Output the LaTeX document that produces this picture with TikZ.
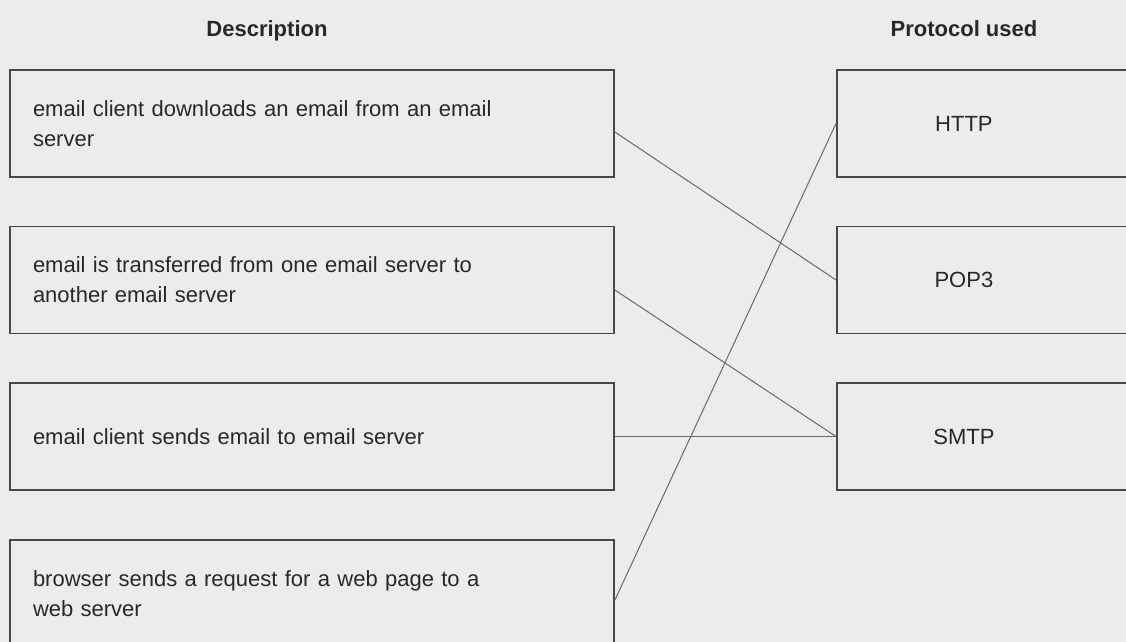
\documentclass[tikz,border=0pt]{standalone}
\usepackage{fontspec}
\setmainfont{Liberation Sans}
\definecolor{paper}{RGB}{236,236,234}
\definecolor{ink}{RGB}{40,40,40}
\definecolor{wire}{RGB}{105,105,105}

\begin{document}
\begin{tikzpicture}[x=0.5pt, y=-0.5pt, font=\fontsize{11}{15}\selectfont, text=ink,
    descbox/.style={draw=ink!85, line width=0.9pt, minimum height=53.5pt, text width=279pt, inner xsep=11.5pt, align=left},
    protobox/.style={draw=ink!85, line width=0.9pt, minimum width=155pt, minimum height=53.5pt, anchor=west},
    head/.style={font=\fontsize{11}{15}\selectfont\bfseries, anchor=base},
    link/.style={draw=wire, line width=0.5pt}]
  \fill[paper] (0,0) rectangle (1126,642);
  \useasboundingbox (0,0) rectangle (1126,642);
  \clip (0,0) rectangle (1126,642);
  % column titles
  \node[head] (deschead) at (267,37) {Description};
  \node[head] (protohead) at (964,37) {Protocol used};
  % descriptions
  \node[descbox] (desc1) at (312,123.5) {email client downloads an email from an email\\ server};
  \node[descbox] (desc2) at (312,280) {email is transferred from one email server to\\ another email server};
  \node[descbox] (desc3) at (312,436.5) {email client sends email to email server};
  \node[descbox] (desc4) at (312,593.5) {browser sends a request for a web page to a\\ web server};
  % protocols
  \node[protobox, label={[name=httptext, xshift=-14pt]center:HTTP}] (http) at (836,123.5) {};
  \node[protobox, label={[name=poptext, xshift=-14pt]center:POP3}] (pop) at (836,280) {};
  \node[protobox, label={[name=smtptext, xshift=-14pt]center:SMTP}] (smtp) at (836,436.5) {};
  % matching lines
  \draw[link] ([yshift=-4.25pt]desc1.east) -- (pop.west);
  \draw[link] ([yshift=-5pt]desc2.east) -- (smtp.west);
  \draw[link] (desc3.east) -- (smtp.west);
  \draw[link] ([yshift=-3.25pt]desc4.east) -- (http.west);
\end{tikzpicture}
\end{document}
